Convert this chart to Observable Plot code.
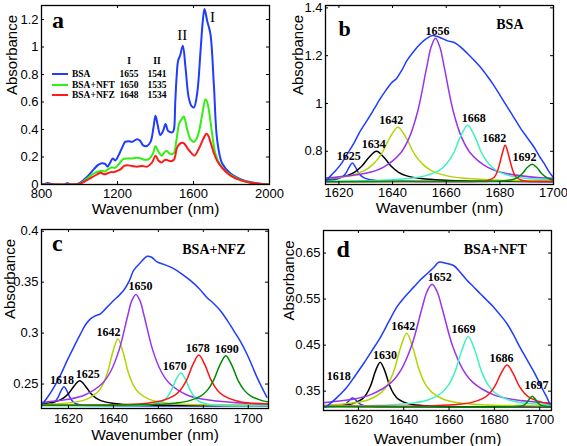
<!DOCTYPE html>
<html><head><meta charset="utf-8">
<script src="https://cdn.jsdelivr.net/npm/d3@7"></script>
<script src="https://cdn.jsdelivr.net/npm/@observablehq/plot@0.6"></script>
<style>
html,body{margin:0;padding:0;background:#fff;}
#root{position:relative;width:567px;height:446px;overflow:hidden;background:#fff;}
.panel{position:absolute;}
.leg{position:absolute;font-family:"Liberation Serif","Times New Roman",serif;font-weight:bold;font-size:9.5px;line-height:10px;white-space:nowrap;color:#000;}
</style></head><body><div id="root"></div>
<script>
// ---------------- Panel a data ----------------
const seriesNames = ["BSA", "BSA+NFT", "BSA+NFZ"];
const bandI = [1655, 1650, 1648];
const bandII = [1541, 1535, 1534];
const bandNames = ["I", "II"];
const bsa = [[800,0],[830,0.01],[850,0.005],[880,0],[920,0],[935,0.01],[950,0.002],[1000,0.01],[1023,0.035],[1050,0.07],[1075,0.11],[1100,0.145],[1120,0.155],[1135,0.15],[1147,0.13],[1162,0.16],[1175,0.19],[1188,0.175],[1205,0.21],[1225,0.27],[1240,0.31],[1258,0.315],[1277,0.31],[1303,0.33],[1318,0.32],[1335,0.285],[1355,0.28],[1374,0.31],[1390,0.42],[1400,0.5],[1412,0.43],[1425,0.36],[1440,0.39],[1453,0.44],[1466,0.39],[1480,0.38],[1490,0.38],[1497,0.4],[1504,0.6],[1511,0.78],[1519,0.9],[1530,0.94],[1544,1.01],[1558,0.85],[1575,0.63],[1590,0.57],[1602,0.56],[1619,0.66],[1637,0.97],[1649,1.19],[1658,1.277],[1672,1.19],[1689,1.096],[1707,0.73],[1725,0.32],[1751,0.153],[1795,0.08],[1865,0.03],[1953,0.005],[2000,0]];
const bsaNft = [[800,0],[950,0],[1000,0.005],[1023,0.025],[1050,0.055],[1075,0.08],[1100,0.095],[1119,0.1],[1135,0.095],[1150,0.11],[1170,0.125],[1185,0.12],[1205,0.145],[1230,0.185],[1255,0.19],[1280,0.19],[1305,0.195],[1322,0.19],[1340,0.18],[1365,0.185],[1385,0.22],[1400,0.278],[1415,0.24],[1432,0.21],[1445,0.23],[1458,0.245],[1470,0.23],[1483,0.22],[1497,0.23],[1511,0.33],[1526,0.45],[1540,0.48],[1549,0.495],[1567,0.4],[1584,0.33],[1602,0.31],[1615,0.33],[1628,0.38],[1646,0.51],[1663,0.62],[1672,0.6],[1681,0.54],[1698,0.37],[1716,0.22],[1742,0.14],[1770,0.095],[1795,0.07],[1850,0.032],[1900,0.013],[1950,0.004],[2000,0]];
const bsaNfz = [[800,0],[950,0],[1000,0.003],[1025,0.02],[1050,0.04],[1075,0.06],[1095,0.075],[1110,0.085],[1130,0.075],[1146,0.08],[1165,0.09],[1181,0.09],[1200,0.1],[1216,0.11],[1235,0.135],[1251,0.14],[1275,0.135],[1303,0.13],[1330,0.135],[1356,0.13],[1382,0.16],[1400,0.21],[1415,0.175],[1432,0.16],[1445,0.175],[1455,0.18],[1467,0.175],[1479,0.17],[1497,0.18],[1514,0.27],[1532,0.3],[1549,0.3],[1570,0.26],[1588,0.23],[1605,0.21],[1628,0.26],[1651,0.33],[1668,0.37],[1678,0.355],[1689,0.31],[1707,0.23],[1725,0.17],[1751,0.12],[1795,0.065],[1850,0.03],[1900,0.012],[1950,0.004],[2000,0]];
const aXTicks = [800, 1200, 1600, 2000];
const aYTicks = [0, 0.2, 0.4, 0.6, 0.8, 1, 1.2];

// ---------------- Panel b data (BSA) ----------------
const bLabels = ["1625","1634","1642","1656","1668","1682","1692"];
const bEnvelope = [[1615,0.672],[1615.5,0.68],[1618,0.71],[1620.5,0.742],[1623,0.787],[1625.5,0.832],[1628,0.885],[1630.5,0.929],[1633,0.975],[1635.4,1.02],[1637.5,1.055],[1639.5,1.085],[1641.5,1.105],[1643.5,1.14],[1645.4,1.18],[1648,1.22],[1650.4,1.25],[1652.5,1.27],[1654.8,1.284],[1656.7,1.28],[1658.5,1.272],[1660.5,1.262],[1663,1.255],[1665.5,1.235],[1668,1.208],[1670.5,1.18],[1672.8,1.152],[1675.3,1.115],[1677.8,1.075],[1680.3,1.03],[1682.8,0.985],[1685.3,0.94],[1687.8,0.895],[1690.2,0.857],[1692.7,0.818],[1694.7,0.78],[1696.5,0.749],[1698.3,0.715],[1700,0.69]];
const b1625 = [[1615,0.677],[1616.2,0.678],[1618.4,0.681],[1620.6,0.689],[1621.7,0.697],[1622.8,0.712],[1623.9,0.735],[1625,0.751],[1626.1,0.735],[1627.2,0.712],[1628.3,0.697],[1629.4,0.689],[1631.6,0.681],[1633.8,0.678],[1638.2,0.675],[1650,0.674],[1700,0.673]];
const b1634 = [[1615,0.683],[1617.5,0.686],[1623,0.698],[1625.75,0.712],[1628.5,0.737],[1631.25,0.775],[1634,0.8],[1636.75,0.775],[1639.5,0.737],[1642.25,0.712],[1645,0.698],[1650.5,0.686],[1656,0.681],[1667,0.676],[1700,0.674]];
const b1642 = [[1615,0.685],[1623.25,0.696],[1629.5,0.719],[1632.6,0.744],[1635.75,0.787],[1638.9,0.855],[1642,0.901],[1645.1,0.855],[1648.25,0.787],[1651.4,0.744],[1654.5,0.719],[1660.75,0.696],[1667,0.687],[1679.5,0.679],[1700,0.676]];
const b1656 = [[1615,0.688],[1630,0.708],[1636.5,0.733],[1643,0.793],[1646.25,0.858],[1649.5,0.973],[1652.75,1.153],[1654.4,1.237],[1656,1.273],[1657.6,1.237],[1659.25,1.153],[1662.5,0.973],[1665.75,0.858],[1669,0.793],[1675.5,0.733],[1682,0.708],[1695,0.689],[1700,0.687]];
const b1668 = [[1615,0.675],[1636.2,0.679],[1646.8,0.687],[1652.1,0.697],[1657.4,0.72],[1660,0.746],[1662.7,0.791],[1665.35,0.862],[1668,0.909],[1670.65,0.862],[1673.3,0.791],[1676,0.746],[1678.6,0.72],[1683.9,0.697],[1689.2,0.687],[1700,0.68]];
const b1682 = [[1615,0.673],[1670,0.674],[1673.8,0.675],[1675.85,0.679],[1677.9,0.691],[1678.9,0.711],[1679.95,0.749],[1681,0.795],[1682,0.825],[1683,0.795],[1684.05,0.749],[1685.1,0.711],[1686.1,0.691],[1688.15,0.679],[1690.2,0.675],[1700,0.674]];
const b1692 = [[1615,0.673],[1675,0.674],[1678.4,0.6745],[1681.8,0.677],[1685.2,0.683],[1686.9,0.693],[1688.6,0.7095],[1690.3,0.733],[1692,0.746],[1693.7,0.733],[1695.4,0.7095],[1697.1,0.693],[1698.8,0.683],[1700,0.679]];
const bXTicks = [1620, 1640, 1660, 1680, 1700];
const bYTicks = [0.8, 1, 1.2, 1.4];

// ---------------- Panel c data (BSA+NFZ) ----------------
const cLabels = ["1618","1625","1642","1650","1670","1678","1690"];
const cEnvelope = [[1608.3,0.23],[1611,0.238],[1613.5,0.2467],[1616.5,0.259],[1619.4,0.273],[1622.3,0.286],[1625.3,0.299],[1627.5,0.308],[1629.8,0.314],[1632,0.317],[1634.2,0.319],[1637,0.325],[1640.1,0.332],[1642.5,0.337],[1644.6,0.342],[1647,0.351],[1649,0.3616],[1652,0.369],[1655,0.3754],[1657,0.3745],[1659.4,0.37],[1663,0.367],[1666.8,0.3633],[1670.5,0.358],[1674.2,0.3517],[1678,0.344],[1681.6,0.335],[1684.6,0.329],[1687.6,0.322],[1690.5,0.313],[1693.5,0.3025],[1696.5,0.292],[1699.4,0.2795],[1701.7,0.268],[1703.9,0.2565],[1706,0.247],[1708.3,0.237]];
const c1618 = [[1608,0.2289],[1608.4,0.229],[1610.8,0.2295],[1613.2,0.2312],[1614.4,0.2336],[1615.6,0.238],[1616.8,0.2439],[1618,0.2473],[1619.2,0.2439],[1620.4,0.238],[1621.6,0.2336],[1622.8,0.2312],[1625.2,0.2295],[1627.6,0.229],[1709,0.2287]];
const c1625 = [[1608,0.2305],[1610.45,0.2311],[1615.3,0.2335],[1617.7,0.2362],[1620.15,0.241],[1622.6,0.2484],[1625,0.2533],[1627.4,0.2484],[1629.85,0.241],[1632.3,0.2362],[1634.7,0.2335],[1639.55,0.2311],[1644.4,0.23],[1654.1,0.2293],[1709,0.2288]];
const c1642 = [[1608,0.2299],[1614.4,0.2304],[1623.6,0.2325],[1628.2,0.2352],[1632.8,0.2417],[1635.1,0.2488],[1637.4,0.2615],[1639.7,0.2812],[1642,0.2943],[1644.3,0.2812],[1646.6,0.2615],[1648.9,0.2488],[1651.2,0.2417],[1655.8,0.2352],[1660.4,0.2325],[1669.6,0.2304],[1688,0.2293],[1709,0.2291]];
const c1650 = [[1608,0.232],[1620,0.235],[1627.5,0.2395],[1635,0.2505],[1638.75,0.2623],[1642.5,0.2833],[1646.25,0.3161],[1648.1,0.3314],[1650,0.338],[1651.9,0.3314],[1653.75,0.3161],[1657.5,0.2833],[1661.25,0.2623],[1665,0.2505],[1672.5,0.2395],[1680,0.235],[1695,0.2316],[1709,0.2303]];
const c1670 = [[1608,0.2287],[1654,0.2292],[1658,0.2302],[1662,0.2331],[1664,0.2373],[1666,0.2447],[1668,0.255],[1670,0.2608],[1672,0.255],[1674,0.2447],[1676,0.2373],[1678,0.2331],[1682,0.2302],[1686,0.2292],[1709,0.2287]];
const c1678 = [[1608,0.2293],[1645,0.2299],[1656,0.2315],[1661.5,0.2336],[1667,0.2386],[1669.75,0.244],[1672.5,0.2536],[1675.25,0.2685],[1678,0.2785],[1680.75,0.2685],[1683.5,0.2536],[1686.25,0.244],[1689,0.2386],[1694.5,0.2336],[1700,0.2315],[1709,0.2305]];
const c1690 = [[1608,0.2292],[1657,0.2299],[1668,0.2315],[1673.5,0.2335],[1679,0.2385],[1681.75,0.2438],[1684.5,0.2533],[1687.25,0.268],[1690,0.2779],[1692.75,0.268],[1695.5,0.2533],[1698.25,0.2438],[1701,0.2385],[1706.5,0.2335],[1709,0.2325]];
const cXTicks = [1620, 1640, 1660, 1680, 1700];
const cYTicks = [0.25, 0.3, 0.35, 0.4];

// ---------------- Panel d data (BSA+NFT) ----------------
const dLabels = ["1618","1630","1642","1652","1669","1686","1697"];
const dEnvelope = [[1605.5,0.315],[1608,0.325],[1610.5,0.336],[1613,0.348],[1615,0.359],[1618.5,0.383],[1622.3,0.41],[1626,0.438],[1629.7,0.467],[1633.4,0.501],[1637,0.533],[1640.7,0.556],[1644.4,0.576],[1647.4,0.592],[1650.3,0.605],[1653.3,0.619],[1655.5,0.63],[1658.5,0.628],[1662,0.623],[1665,0.608],[1667.9,0.591],[1670.8,0.577],[1673.7,0.562],[1676.6,0.548],[1679.6,0.533],[1682.5,0.516],[1685.5,0.497],[1688.4,0.473],[1691.2,0.446],[1694.2,0.42],[1697.1,0.395],[1699.3,0.374],[1701.5,0.352],[1703,0.338],[1704.4,0.322]];
const d1618 = [[1604.6,0.3162],[1610.3,0.317],[1612.7,0.3187],[1613.9,0.3211],[1615.1,0.3255],[1616.3,0.3316],[1617.5,0.335],[1618.7,0.3316],[1619.9,0.3255],[1621.1,0.3211],[1622.3,0.3187],[1624.7,0.317],[1630,0.3162],[1705.2,0.316]];
const d1630 = [[1604.6,0.3172],[1613.6,0.3199],[1617.6,0.3233],[1621.6,0.3325],[1623.6,0.3441],[1625.6,0.3645],[1627.6,0.3946],[1629.6,0.413],[1631.6,0.3946],[1633.6,0.3645],[1635.6,0.3441],[1637.6,0.3325],[1641.6,0.3233],[1645.6,0.3199],[1653.6,0.3175],[1705.2,0.3162]];
const d1642 = [[1604.6,0.3195],[1608.3,0.3203],[1619.3,0.3254],[1624.8,0.332],[1630.3,0.348],[1633.05,0.3652],[1635.8,0.396],[1638.55,0.444],[1641.3,0.476],[1644.05,0.444],[1646.8,0.396],[1649.55,0.3652],[1652.3,0.348],[1657.8,0.332],[1663.3,0.3254],[1674.3,0.3203],[1705.2,0.318]];
const d1652 = [[1604.6,0.325],[1616.5,0.3317],[1625.5,0.3426],[1634.5,0.3692],[1639,0.398],[1643.5,0.449],[1648,0.529],[1650.25,0.566],[1652.5,0.582],[1654.75,0.566],[1657,0.529],[1661.5,0.449],[1666,0.398],[1670.5,0.3692],[1679.5,0.3426],[1688.5,0.3317],[1705.2,0.3235]];
const d1669 = [[1604.6,0.3185],[1633.4,0.3201],[1645.1,0.325],[1650.95,0.3313],[1656.8,0.3466],[1659.7,0.363],[1662.65,0.3925],[1665.6,0.4384],[1668.5,0.469],[1671.4,0.4384],[1674.35,0.3925],[1677.3,0.363],[1680.2,0.3466],[1686.05,0.3313],[1691.9,0.325],[1705.2,0.3205]];
const d1686 = [[1604.6,0.3172],[1653.8,0.3185],[1664.4,0.3214],[1669.7,0.3251],[1675,0.3342],[1677.65,0.344],[1680.3,0.3615],[1682.95,0.3888],[1685.6,0.407],[1688.25,0.3888],[1690.9,0.3615],[1693.55,0.344],[1696.2,0.3342],[1701.5,0.3251],[1705.2,0.3225]];
const d1697 = [[1604.6,0.316],[1688,0.3162],[1690.7,0.3172],[1692.7,0.3192],[1693.7,0.3222],[1694.7,0.3275],[1695.7,0.3349],[1696.7,0.339],[1697.7,0.3349],[1698.7,0.3275],[1699.7,0.3222],[1700.7,0.3192],[1702.7,0.3172],[1705.2,0.3165]];
const dXTicks = [1620, 1640, 1660, 1680, 1700];
const dYTicks = [0.35, 0.45, 0.55, 0.65];

// ---------------- styling ----------------
const SERIF = '"Liberation Serif","Times New Roman",serif';
const SANS = '"Liberation Sans",Arial,sans-serif';
const BLUE = "#1f3cff";
const seriesColors = [BLUE, "#33ee11", "#ff1a1a"];
const compColors = [BLUE, "#000000", "#b3d400", "#9933ee", "#3ff2bd", "#ff1414", "#008a00"];
// label nudges (pixels) per panel, in label order
const bNudge = [[-3.5, 0], [-2.6, 0], [-6.7, 0], [2, 0], [6, 0], [-11, 0], [-7.5, 0]];
const cNudge = [[-2, 0], [8, 0], [-9.5, 0], [4.5, -1], [-6, 0], [-1, 0], [1, 0]];
const dNudge = [[-15, -15], [4, 0], [-5, 0], [8.7, 0], [-6, 0], [-6.5, 0], [3.5, -4]];

const root = document.getElementById("root");
function place(el, left, top) {
  const d = document.createElement("div");
  d.className = "panel";
  d.style.left = left + "px";
  d.style.top = top + "px";
  d.appendChild(el);
  root.appendChild(d);
}

function lines(series, colors, sw) {
  return series.map((s, i) => Plot.line(s, {x: p => p[0], y: p => p[1], stroke: colors[i], strokeWidth: sw, curve: "catmull-rom", clip: true}));
}

function ticksIn(xt, yt, iw, ih, len) {
  return [
    Plot.ruleX(xt, {x: d => d, insetTop: ih - len, stroke: "#000"}),
    Plot.ruleX(xt, {x: d => d, insetBottom: ih - len, stroke: "#000"}),
    Plot.ruleY(yt, {y: d => d, insetRight: iw - len, stroke: "#000"}),
    Plot.ruleY(yt, {y: d => d, insetLeft: iw - len, stroke: "#000"})
  ];
}

function makePanel(c) {
  const iw = c.width - c.ml - c.mr, ih = c.height - c.mt - c.mb;
  return Plot.plot({
    width: c.width, height: c.height,
    marginTop: c.mt, marginRight: c.mr, marginBottom: c.mb, marginLeft: c.ml,
    style: {fontFamily: SANS, fontSize: "13px", color: "#000", background: "transparent", overflow: "visible"},
    x: {domain: c.xDomain},
    y: {domain: c.yDomain},
    marks: [
      ...c.marks,
      ...ticksIn(c.xTicks, c.yTicks, iw, ih, 3),
      Plot.frame({stroke: "#000", strokeWidth: 1.3}),
      Plot.axisX(c.xTicks, {tickSize: 0, tickPadding: c.xPad, tickFormat: d => String(d), label: null}),
      Plot.axisY(c.yTicks, {tickSize: 0, tickPadding: 3, tickFormat: d => String(d), label: null}),
      Plot.text(["Wavenumber (nm)"], {text: d => d, frameAnchor: "bottom", lineAnchor: "middle", dy: c.xTitleDy + 1.5, fontSize: 15.5, fontFamily: SANS}),
      Plot.text(["Absorbance"], {text: d => d, frameAnchor: "left", lineAnchor: "middle", rotate: -90, dx: -c.yTitleDx, fontSize: 15, fontFamily: SANS}),
      Plot.text([c.letter], {text: d => d, frameAnchor: "top-left", textAnchor: "start", lineAnchor: "top", dx: c.letterDx, dy: c.letterDy, fontSize: c.letterSize, fontWeight: "bold", fontFamily: SERIF}),
      c.title ? Plot.text([c.title], {text: d => d, frameAnchor: "top-right", textAnchor: "end", lineAnchor: "top", dx: c.titleDx, dy: c.titleDy, fontSize: 14, fontWeight: "bold", fontFamily: SERIF}) : null
    ]
  });
}

function peakLabels(names, comps, nudge) {
  const rows = names.map((t, i) => ({t, x: +t, y: d3.max(comps[i], p => p[1]), i}));
  return rows.map(r => Plot.text([r], {x: "x", y: "y", text: "t", dx: nudge[r.i][0], dy: -3 + nudge[r.i][1], lineAnchor: "bottom", fontSize: 12, fontWeight: "bold", fontFamily: SERIF}));
}

// ---------- Panel a ----------
const aSeries = [bsa, bsaNft, bsaNfz];
const bandRows = [bandI[0], bandII[0]].map((v, i) => ({
  t: bandNames[i], x: v,
  y: d3.max(bsa.filter(p => Math.abs(p[0] - v) < 12), p => p[1])
}));
place(makePanel({
  width: 283, height: 223, mt: 5, mr: 14, mb: 39, ml: 41,
  xDomain: [800, 2000], yDomain: [0, 1.302], xTicks: aXTicks, yTicks: aYTicks, xPad: 4,
  xTitleDy: 23, yTitleDx: 29, letter: "a", letterSize: 24, letterDx: 10.5, letterDy: 5.3,
  marks: [
    ...lines(aSeries, seriesColors, 2),
    Plot.text(bandRows.slice(1), {x: "x", y: "y", text: "t", dy: -6, lineAnchor: "bottom", fontSize: 15, fontFamily: SERIF}),
    Plot.text(bandRows.slice(0, 1), {x: "x", y: "y", text: "t", dx: 6, dy: 2, textAnchor: "start", lineAnchor: "top", fontSize: 15, fontFamily: SERIF})
  ]
}), 0, 0);

// legend of panel a (HTML overlay)
function legText(txt, left, top, anchor) {
  const s = document.createElement("div");
  s.className = "leg";
  s.textContent = txt;
  s.style.top = top + "px";
  if (anchor === "middle") { s.style.left = (left - 20) + "px"; s.style.width = "40px"; s.style.textAlign = "center"; }
  else s.style.left = left + "px";
  root.appendChild(s);
}
legText(bandNames[0], 129, 56, "middle");
legText(bandNames[1], 157, 56, "middle");
seriesNames.forEach((n, i) => {
  const yc = 74 + i * 10.5;
  const sw = document.createElement("div");
  sw.style.cssText = `position:absolute;left:52px;top:${yc - 1}px;width:16px;height:2px;background:${seriesColors[i]}`;
  root.appendChild(sw);
  legText(n, 72, yc - 5);
  legText(String(bandI[i]), 129, yc - 5, "middle");
  legText(String(bandII[i]), 157, yc - 5, "middle");
});

// ---------- Panel b ----------
const bComps = [b1625, b1634, b1642, b1656, b1668, b1682, b1692];
place(makePanel({
  width: 284, height: 223, mt: 5, mr: 14, mb: 39, ml: 42,
  xDomain: [1615, 1700], yDomain: [0.661, 1.41], xTicks: bXTicks, yTicks: bYTicks, xPad: 3.5,
  xTitleDy: 22.5, yTitleDx: 27.5, letter: "b", letterSize: 22, letterDx: 13, letterDy: 14.4,
  title: "BSA", titleDx: -30, titleDy: 13.4,
  marks: [
    ...lines(bComps, compColors, 1.5),
    ...lines([bEnvelope], [BLUE], 1.5),
    ...peakLabels(bLabels, bComps, bNudge)
  ]
}), 283, 0);

// ---------- Panel c ----------
const cComps = [c1618, c1625, c1642, c1650, c1670, c1678, c1690];
place(makePanel({
  width: 283, height: 223, mt: 6, mr: 15, mb: 38, ml: 41,
  xDomain: [1608, 1709], yDomain: [0.226, 0.4017], xTicks: cXTicks, yTicks: cYTicks, xPad: 5,
  xTitleDy: 25.5, yTitleDx: 31, letter: "c", letterSize: 24, letterDx: 10.5, letterDy: 4.7,
  title: "BSA+NFZ", titleDx: -23, titleDy: 15,
  marks: [
    ...lines(cComps, compColors, 1.5),
    ...lines([cEnvelope], [BLUE], 1.5),
    ...peakLabels(cLabels, cComps, cNudge)
  ]
}), 0, 223);

// ---------- Panel d ----------
const dComps = [d1618, d1630, d1642, d1652, d1669, d1686, d1697];
place(makePanel({
  width: 284, height: 223, mt: 7, mr: 16, mb: 36, ml: 40,
  xDomain: [1604.6, 1705.2], yDomain: [0.308, 0.699], xTicks: dXTicks, yTicks: dYTicks, xPad: 4,
  xTitleDy: 26.7, yTitleDx: 34.7, letter: "d", letterSize: 24, letterDx: 13, letterDy: 9,
  title: "BSA+NFT", titleDx: -24.6, titleDy: 13.4,
  marks: [
    ...lines(dComps, compColors, 1.5),
    ...lines([dEnvelope], [BLUE], 1.5),
    ...peakLabels(dLabels, dComps, dNudge)
  ]
}), 283, 223);
</script></body></html>
